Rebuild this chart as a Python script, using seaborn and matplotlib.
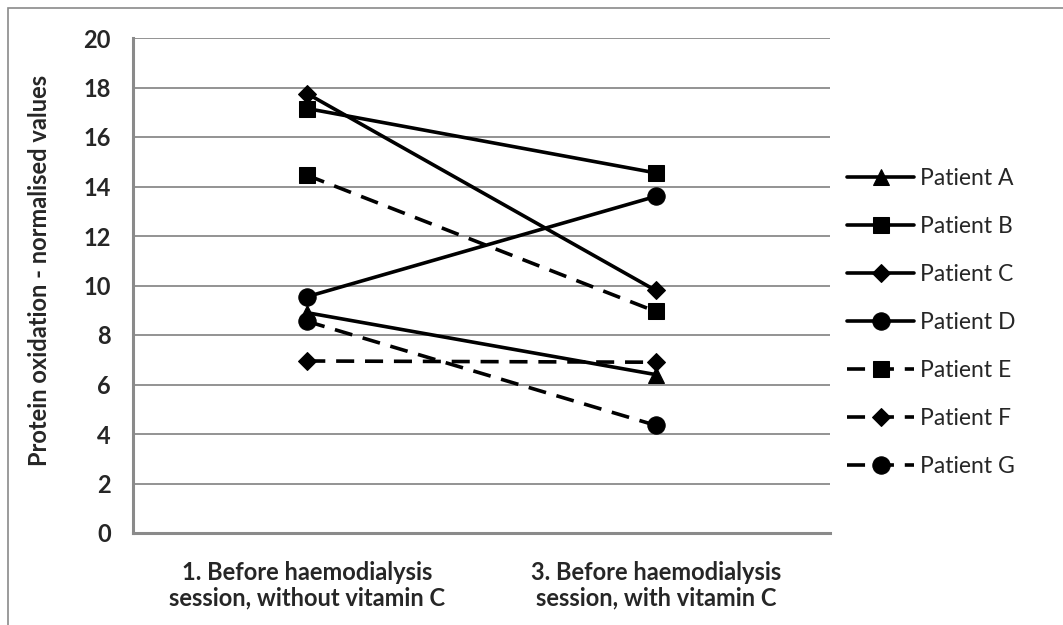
import pandas as pd
import matplotlib.pyplot as plt
import seaborn as sns
from matplotlib.patches import Rectangle

# Data
categories = ["1. Before haemodialysis\nsession, without vitamin C",
              "3. Before haemodialysis\nsession, with vitamin C"]
patients = ["Patient A", "Patient B", "Patient C", "Patient D",
            "Patient E", "Patient F", "Patient G"]
before_values = [8.9, 17.15, 17.75, 9.55, 14.45, 6.95, 8.55]
after_values = [6.4, 14.55, 9.8, 13.6, 8.95, 6.9, 4.35]

markers = ["^", "s", "D", "o", "s", "D", "o"]
marker_sizes = [12, 12, 9, 12.5, 12, 9, 12.5]
dashed = [False, False, False, False, True, True, True]

rows = []
for i, p in enumerate(patients):
    rows.append({"Patient": p, "pos": 0, "value": before_values[i]})
    rows.append({"Patient": p, "pos": 1, "value": after_values[i]})
df = pd.DataFrame(rows)

sns.set_theme(style="white")
plt.rcParams["font.family"] = ["Lato", "DejaVu Sans"]

fig = plt.figure(figsize=(10.63, 6.25), dpi=100)
ax = fig.add_axes([133 / 1063, 1 - 533 / 625, (830 - 133) / 1063, (533 - 38) / 625])

for i, p in enumerate(patients):
    sub = df[df["Patient"] == p]
    sns.lineplot(data=sub, x="pos", y="value", ax=ax, color="black",
                 marker=markers[i], markersize=marker_sizes[i],
                 markeredgecolor="black", markerfacecolor="black",
                 linewidth=2.6, label=p,
                 linestyle="--" if dashed[i] else "-")

for line, d in zip(ax.lines, dashed):
    if d:
        line.set_dashes((5, 3))

fs = 17
ax.set_xlim(-0.5, 1.5)
ax.set_ylim(0, 20)
ax.set_yticks(range(0, 21, 2))
ax.set_xticks([0, 1])
ax.set_xticklabels(categories, fontsize=fs, fontweight="bold", linespacing=1.15)
ax.tick_params(axis="y", labelsize=fs, pad=16, length=0)
ax.tick_params(axis="x", pad=20, length=0)
for lbl in ax.get_yticklabels():
    lbl.set_fontweight("bold")

ax.set_xlabel("")
ax.set_ylabel("Protein oxidation - normalised values", fontsize=fs,
              fontweight="bold")
ax.yaxis.set_label_coords(-0.118, 0.53)

ax.grid(axis="y", color="#8a8a8a", linewidth=1.3)
ax.set_axisbelow(True)
for side in ["top", "right"]:
    ax.spines[side].set_visible(False)
for side in ["left", "bottom"]:
    ax.spines[side].set_color("#8a8a8a")
    ax.spines[side].set_linewidth(2.2)

ax.legend(loc="center left", bbox_to_anchor=(836 / 1063, 1 - 322.5 / 625),
          bbox_transform=fig.transFigure, frameon=False, fontsize=16.5,
          handlelength=2.9, labelspacing=1.18, borderpad=0, handletextpad=0.25)

# outer chart frame (cropped on the right and bottom like the reference)
fig.add_artist(Rectangle((8 / 1063, -0.1), 1.2, 1.1 - 8 / 625,
                         transform=fig.transFigure, fill=False,
                         edgecolor="#8a8a8a", linewidth=1.2))

fig.savefig("out.png", dpi=100)
